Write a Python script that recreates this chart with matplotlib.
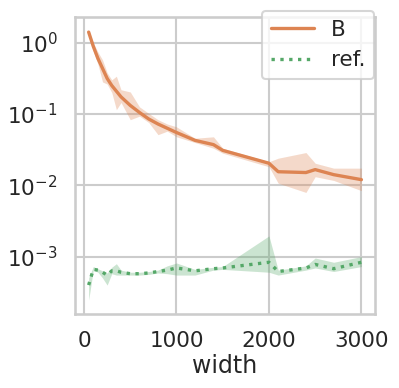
import numpy as np
import matplotlib
matplotlib.use("Agg")
import matplotlib.pyplot as plt
import seaborn as sns

# widths evaluated
width = [50, 100, 150, 200, 250, 300, 350, 400, 500, 600, 700, 800, 900,
         1000, 1200, 1400, 1500, 2000, 2100, 2400, 2500, 2700, 3000]

# series B: mean and band
b_mean = [1.41, 0.891, 0.603, 0.437, 0.316, 0.251, 0.209, 0.174, 0.132, 0.105,
          0.0851, 0.0724, 0.0631, 0.0550, 0.0427, 0.0372, 0.0309, 0.0204,
          0.0155, 0.0151, 0.0166, 0.0141, 0.0120]
b_high = [1.48, 1.00, 0.741, 0.575, 0.380, 0.302, 0.339, 0.219, 0.204, 0.126,
          0.102, 0.0832, 0.0724, 0.0661, 0.0457, 0.0479, 0.0331, 0.0214,
          0.0240, 0.0288, 0.0204, 0.0174, 0.0174]
b_low = [1.35, 0.759, 0.501, 0.282, 0.263, 0.200, 0.115, 0.145, 0.0832, 0.0933,
         0.0759, 0.0513, 0.0575, 0.0479, 0.0398, 0.0331, 0.0282, 0.0182,
         0.0107, 0.00794, 0.0132, 0.0117, 0.00841]

# reference series (x1e-3)
ref_mean = [0.398, 0.661, 0.646, 0.603, 0.550, 0.631, 0.631, 0.603, 0.575, 0.575,
            0.589, 0.617, 0.646, 0.692, 0.631, 0.676, 0.692, 0.832, 0.617,
            0.692, 0.776, 0.676, 0.832]
ref_high = [0.501, 0.724, 0.676, 0.631, 0.589, 0.708, 0.794, 0.646, 0.603, 0.603,
            0.617, 0.646, 0.741, 0.813, 0.661, 0.708, 0.724, 1.95, 0.646,
            0.741, 0.955, 0.832, 1.00]
ref_low = [0.245, 0.646, 0.603, 0.501, 0.398, 0.575, 0.550, 0.550, 0.550, 0.550,
           0.562, 0.589, 0.575, 0.550, 0.550, 0.646, 0.661, 0.603, 0.550,
           0.646, 0.692, 0.617, 0.724]

sns.set_theme(style="whitegrid", context="talk")

orange = "#dd8452"
green = "#55a868"

x = np.array(width)
fig = plt.figure(figsize=(3.99, 3.88), dpi=100)
ax = fig.add_axes([0.188, 0.191, 0.752, 0.766])

ax.fill_between(x, b_low, b_high, color=orange, alpha=0.3, linewidth=0)
ax.plot(x, b_mean, color=orange, lw=2.4, label="B")
ax.fill_between(x, np.array(ref_low) * 1e-3, np.array(ref_high) * 1e-3,
                color=green, alpha=0.3, linewidth=0)
ax.plot(x, np.array(ref_mean) * 1e-3, color=green, lw=2.4, ls=":", label="ref.")

ax.set_yscale("log")
ax.set_ylim(1.57e-4, 2.32)
ax.set_xlim(-97.5, 3147.5)
ax.set_xticks([0, 1000, 2000, 3000])
ax.tick_params(labelsize=15.5)
ax.minorticks_off()
ax.set_xlabel("width", fontsize=17, labelpad=2)

ax.legend(loc="upper right", bbox_to_anchor=(0.997, 1.019), borderaxespad=0,
          fontsize=15.5)

fig.savefig("out.png", dpi=100)
